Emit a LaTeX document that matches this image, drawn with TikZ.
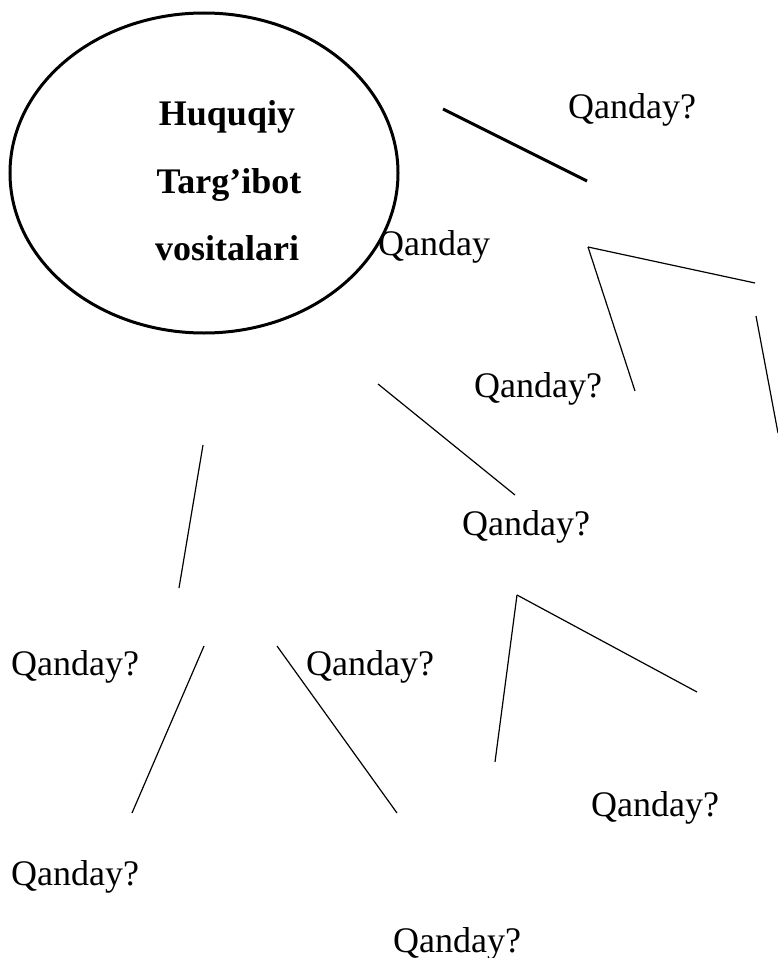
\documentclass[tikz,border=0pt]{standalone}
\usepackage{fontspec}
\setmainfont{Liberation Serif}
\usetikzlibrary{shapes.geometric}
\begin{document}
\begin{tikzpicture}[x=1pt,y=-1pt,
  qlab/.style={anchor=base west, inner sep=0, font=\fontsize{36}{40}\selectfont},
  ttl/.style={anchor=base, inner sep=0, font=\fontsize{36}{40}\selectfont\bfseries},
  ln/.style={line width=1.2pt},
  lnfat/.style={line width=3pt}]
\useasboundingbox (0,0) rectangle (778,958);
\node[draw, ellipse, line width=3pt, minimum width=388pt, minimum height=320pt, inner sep=0] (oval) at (204,173){};
\node[ttl] (ttl1) at (227,125){Huquqiy};
\node[ttl] (ttl2) at (229,193){Targ’ibot};
\node[ttl] (ttl3) at (227,260){vositalari};
\node[qlab] (q0) at (568,118){Qanday?};
\node[qlab] (q1) at (378,255){Qanday};
\node[qlab] (q2) at (474,397){Qanday?};
\node[qlab] (q3) at (462,535){Qanday?};
\node[qlab] (q4) at (11,675){Qanday?};
\node[qlab] (q5) at (306,675){Qanday?};
\node[qlab] (q6) at (591,816){Qanday?};
\node[qlab] (q7) at (11,885){Qanday?};
\node[qlab] (q8) at (393,952){Qanday?};
\coordinate (p0) at (443,109);
\coordinate (p1) at (587,181);
\draw[lnfat](p0) -- (p1);
\coordinate (v0) at (588,247);
\coordinate (v1) at (755,283);
\coordinate (v2) at (635,391);
\draw[ln](v0) -- (v1);
\draw[ln](v0) -- (v2);
\coordinate (r0) at (756,316);
\coordinate (r1) at (778,433);
\draw[ln](r0) -- (r1);
\coordinate (m0) at (378,384);
\coordinate (m1) at (515,495);
\draw[ln](m0) -- (m1);
\coordinate (k0) at (203,445);
\coordinate (k1) at (179,588);
\draw[ln](k0) -- (k1);
\coordinate (w0) at (517,595);
\coordinate (w1) at (495,762);
\coordinate (w2) at (697,692);
\draw[ln](w0) -- (w1);
\draw[ln](w0) -- (w2);
\coordinate (a0) at (204,646);
\coordinate (a1) at (132,813);
\draw[ln](a0) -- (a1);
\coordinate (b0) at (277,646);
\coordinate (b1) at (397,813);
\draw[ln](b0) -- (b1);
\end{tikzpicture}
\end{document}
